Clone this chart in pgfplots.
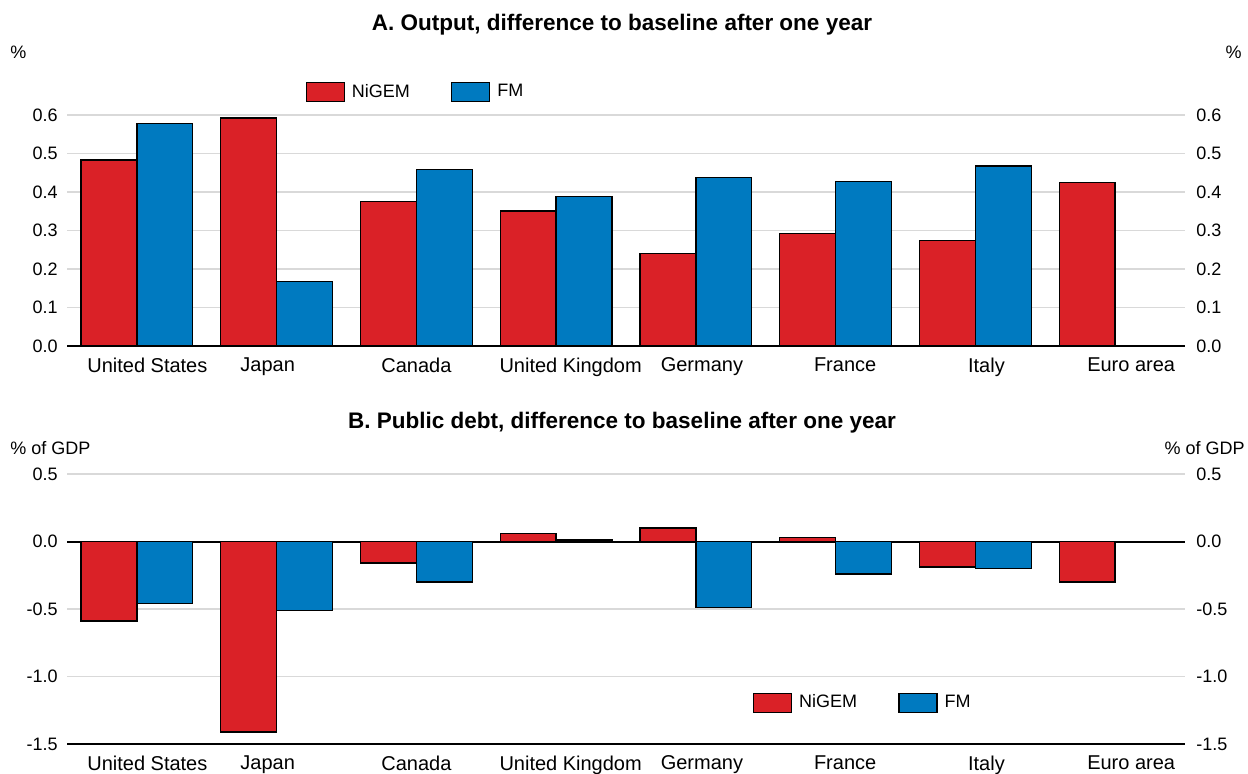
\documentclass[border=0pt]{standalone}
\usepackage{fontspec}
\setmainfont{Liberation Sans}
\usepackage{pgfplots}
\pgfplotsset{compat=1.18}
\definecolor{nred}{RGB}{218,33,39}
\definecolor{fblue}{RGB}{0,122,192}
\definecolor{gridgray}{RGB}{217,217,217}

\pgfplotsset{
  base/.style={
    scale only axis, width=559pt, xmin=-0.5, xmax=7.5,
    axis line style={draw=none},
    /pgf/number format/assume math mode=true,
    /pgf/number format/fixed, /pgf/number format/fixed zerofill,
    /pgf/number format/precision=1,
    yticklabel style={font=\fontsize{9}{10}\selectfont, inner sep=0pt, xshift=-4.5pt},
    xticklabel style={font=\fontsize{10}{11}\selectfont, inner sep=0pt, yshift=-5.8pt},
    ytick style={draw=none},
  },
  barleg/.style={
    legend columns=2,
    legend style={draw=none, fill=none, inner sep=0pt,
      font=\fontsize{9}{10}\selectfont,
      nodes={inner xsep=3.5pt},
      /tikz/every even column/.append style={column sep=17pt}},
    legend image code/.code={\draw[##1] (0pt,-4.75pt) rectangle (19pt,4.75pt);},
    legend cell align=left,
  },
  nbar/.style={ybar, bar width=0.4, bar shift=-0.2, fill=nred, draw=black, line width=0.7pt},
  fbar/.style={ybar, bar width=0.4, bar shift=0.2, fill=fblue, draw=black, line width=0.7pt},
}

\begin{document}
\begin{tikzpicture}
\path[use as bounding box] (0,0) rectangle (624pt,-386.5pt);

% ---------- Panel A ----------
\begin{axis}[base, barleg, at={(33.5pt,-173pt)}, anchor=south west, height=115.5pt,
  ymin=0, ymax=0.6, ytick={0,0.1,0.2,0.3,0.4,0.5,0.6},
  ymajorgrids, grid style={color=gridgray, line width=0.75pt},
  extra y ticks={0}, extra y tick labels={},
  extra y tick style={grid style={black, line width=1pt}},
  xtick={0.075,0.936,2,3.104,4.043,5.068,6.079,7.115},
  xticklabels={United States,Japan,Canada,United Kingdom,Germany,France,Italy,Euro area},
  xtick style={draw=none},
  legend style={at={(0.213,1.0996)}, anchor=west},
]
\addplot[nbar] coordinates {(0,0.483) (1,0.592) (2,0.376) (3,0.351) (4,0.240) (5,0.293) (6,0.274) (7,0.424)};
\addplot[fbar] coordinates {(0,0.578) (1,0.168) (2,0.458) (3,0.388) (4,0.437) (5,0.428) (6,0.468)};
\legend{NiGEM,FM}
\end{axis}
\begin{axis}[base, at={(33.5pt,-173pt)}, anchor=south west, height=115.5pt,
  ymin=0, ymax=0.6, ytick={0,0.1,0.2,0.3,0.4,0.5,0.6},
  yticklabel pos=right, xtick=\empty,
  yticklabel style={anchor=west, xshift=10pt}]
\addplot[draw=none] coordinates {(0,0)};
\end{axis}

% ---------- Panel B ----------
\begin{axis}[base, barleg, at={(33.5pt,-372pt)}, anchor=south west, height=135pt,
  ymin=-1.5, ymax=0.5, ytick={-1.5,-1,-0.5,0,0.5},
  ymajorgrids, grid style={color=gridgray, line width=0.75pt},
  extra y ticks={-1.5,0}, extra y tick labels={},
  extra y tick style={grid style={black, line width=1pt}},
  xtick={0.075,0.936,2,3.104,4.043,5.068,6.079,7.115},
  xticklabels={United States,Japan,Canada,United Kingdom,Germany,France,Italy,Euro area},
  xtick style={draw=none}, xtick pos=lower,
  extra x ticks={0,1,2,3,4,5,6,7}, extra x tick labels={},
  extra x tick style={tick align=inside, major tick length=3pt,
     tick style={draw=black, line width=0.6pt}, xmajorgrids=false},
  legend style={at={(0.613,0.152)}, anchor=west},
]
\addplot[nbar] coordinates {(0,-0.59) (1,-1.41) (2,-0.16) (3,0.06) (4,0.10) (5,0.03) (6,-0.19) (7,-0.30)};
\addplot[fbar] coordinates {(0,-0.46) (1,-0.51) (2,-0.30) (3,0.01) (4,-0.49) (5,-0.24) (6,-0.20)};
\legend{NiGEM,FM}
\end{axis}
\begin{axis}[base, at={(33.5pt,-372pt)}, anchor=south west, height=135pt,
  ymin=-1.5, ymax=0.5, ytick={-1.5,-1,-0.5,0,0.5},
  yticklabel pos=right, xtick=\empty,
  yticklabel style={anchor=west, xshift=10pt}]
\addplot[draw=none] coordinates {(0,0)};
\end{axis}

% ---------- Titles and units ----------
\node[font=\fontsize{11.25}{13}\selectfont\bfseries] at (311pt,-12.5pt) {A. Output, difference to baseline after one year};
\node[font=\fontsize{11.25}{13}\selectfont\bfseries] at (311pt,-211.5pt) {B. Public debt, difference to baseline after one year};
\node[font=\fontsize{9}{10}\selectfont, anchor=west, inner sep=0pt] at (5pt,-26pt) {\%};
\node[font=\fontsize{9}{10}\selectfont, anchor=east, inner sep=0pt] at (621pt,-26pt) {\%};
\node[font=\fontsize{9}{10}\selectfont, anchor=west, inner sep=0pt] at (5pt,-224pt) {\% of GDP};
\node[font=\fontsize{9}{10}\selectfont, anchor=east, inner sep=0pt] at (622.5pt,-224pt) {\% of GDP};
\end{tikzpicture}
\end{document}
